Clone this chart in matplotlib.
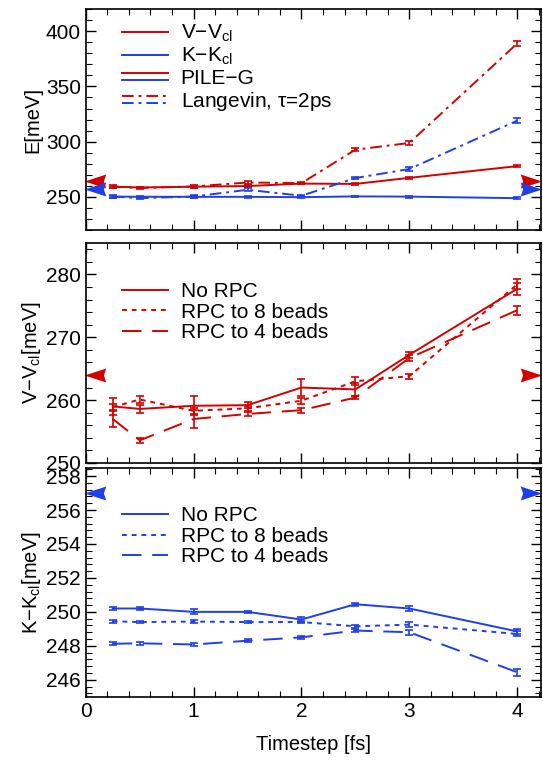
import matplotlib
matplotlib.use('Agg')
import matplotlib.pyplot as plt
from matplotlib.lines import Line2D
from matplotlib.legend_handler import HandlerBase
from matplotlib.ticker import MultipleLocator

plt.rcParams['font.family'] = ['Liberation Sans', 'DejaVu Sans']
plt.rcParams['mathtext.default'] = 'regular'

# timesteps [fs]
dt = [0.25, 0.5, 1.0, 1.5, 2.0, 2.5, 3.0, 4.0]

# top panel: total energies, PILE-G vs Langevin
pile_v = [259.2, 258.5, 259.2, 259.8, 262.0, 261.7, 267.2, 277.8]
pile_k = [250.2, 250.1, 250.0, 250.0, 249.7, 250.4, 250.2, 248.8]
lang_v = [259.4, 258.0, 259.4, 263.0, 262.4, 292.7, 298.8, 388.8]
lang_k = [250.3, 248.8, 250.3, 256.4, 251.0, 267.0, 275.2, 319.0]
pile_err = [0.8] * 8
lang_err = [1.0, 1.0, 1.0, 1.2, 1.0, 1.2, 1.5, 2.0]

# middle panel: V - V_cl
v_norpc = [259.0, 258.6, 259.1, 259.2, 262.0, 261.7, 267.2, 277.7]
v_norpc_err = [1.4, 0.6, 1.5, 0.5, 1.3, 1.0, 0.5, 1.0]
v_rpc8 = [258.9, 260.1, 258.3, 258.7, 259.9, 263.0, 263.8, 278.4]
v_rpc8_err = [0.5, 0.5, 0.5, 0.4, 0.5, 0.6, 0.4, 0.8]
v_rpc4 = [257.0, 253.6, 257.0, 257.8, 258.4, 260.4, 266.7, 274.3]
v_rpc4_err = [1.2, 0.4, 1.4, 0.3, 0.4, 0.3, 0.4, 0.7]

# bottom panel: K - K_cl
k_norpc = [250.2, 250.2, 250.0, 250.0, 249.55, 250.45, 250.2, 248.85]
k_norpc_err = [0.1, 0.08, 0.15, 0.08, 0.15, 0.1, 0.12, 0.15]
k_rpc8 = [249.45, 249.4, 249.43, 249.4, 249.4, 249.15, 249.25, 248.7]
k_rpc8_err = [0.08, 0.08, 0.08, 0.08, 0.08, 0.1, 0.15, 0.15]
k_rpc4 = [248.12, 248.15, 248.08, 248.3, 248.5, 248.9, 248.8, 246.45]
k_rpc4_err = [0.08, 0.08, 0.1, 0.08, 0.1, 0.1, 0.15, 0.2]

# reference (classical limit) values marked by arrows
v_ref = 264.0
k_ref = 257.0

red = '#d40000'
blue = '#1f3fe8'
lw = 1.4
dashdot = (0, (6, 2.5, 1.5, 2.5))
dotted = (0, (2.5, 2.5))
dashed = (0, (10, 5.5))


class StackedHandler(HandlerBase):
    def create_artists(self, legend, orig_handle, xdescent, ydescent,
                       width, height, fontsize, trans):
        arts = []
        offs = [2.6, -2.6]
        for ln, off in zip(orig_handle, offs):
            y = height / 2 - ydescent + off
            l = Line2D([-xdescent, width - xdescent], [y, y])
            l.update_from(ln)
            l.set_transform(trans)
            arts.append(l)
        return arts


fig = plt.figure(figsize=(5.43, 7.64), dpi=100)
ax1 = fig.add_axes([0.158, 0.699, 0.838, 0.289])
ax2 = fig.add_axes([0.158, 0.394, 0.838, 0.288])
ax3 = fig.add_axes([0.158, 0.088, 0.838, 0.300])

ebkw = dict(capsize=3, elinewidth=1.2, capthick=1.2)
legkw = dict(loc='upper left', frameon=False, fontsize=15, handlelength=2.2,
             labelspacing=0.08, handletextpad=0.6, borderaxespad=0)

# top panel
ax1.errorbar(dt, pile_v, yerr=pile_err, color=red, lw=lw, **ebkw)
ax1.errorbar(dt, pile_k, yerr=pile_err, color=blue, lw=lw, **ebkw)
ax1.errorbar(dt, lang_v, yerr=lang_err, color=red, lw=lw, ls=dashdot, **ebkw)
ax1.errorbar(dt, lang_k, yerr=lang_err, color=blue, lw=lw, ls=dashdot, **ebkw)

h_v = Line2D([], [], color=red, lw=lw)
h_k = Line2D([], [], color=blue, lw=lw)
h_pile = (Line2D([], [], color=red, lw=lw), Line2D([], [], color=blue, lw=lw))
h_lang = (Line2D([], [], color=red, lw=lw, ls=dashdot),
          Line2D([], [], color=blue, lw=lw, ls=dashdot))
ax1.legend([h_v, h_k, h_pile, h_lang],
           ['V\u2212V$_{cl}$', 'K\u2212K$_{cl}$', 'PILE\u2212G',
            'Langevin, $\\tau$=2ps'],
           handler_map={tuple: StackedHandler()},
           bbox_to_anchor=(0.062, 0.975), **legkw)
ax1.set_ylim(220, 420)
ax1.yaxis.set_major_locator(MultipleLocator(50))
ax1.yaxis.set_minor_locator(MultipleLocator(10))
ax1.set_ylabel('E[meV]', fontsize=14.5)

# middle panel
ax2.errorbar(dt, v_norpc, yerr=v_norpc_err, color=red, lw=lw, label='No RPC', **ebkw)
ax2.errorbar(dt, v_rpc8, yerr=v_rpc8_err, color=red, lw=lw, ls=dotted,
             label='RPC to 8 beads', **ebkw)
ax2.errorbar(dt, v_rpc4, yerr=v_rpc4_err, color=red, lw=lw, ls=dashed,
             label='RPC to 4 beads', **ebkw)
ax2.set_ylim(250, 285)
ax2.yaxis.set_major_locator(MultipleLocator(10))
ax2.yaxis.set_minor_locator(MultipleLocator(2))
ax2.set_ylabel('V\u2212V$_{cl}$[meV]', fontsize=14.5)

# bottom panel
ax3.errorbar(dt, k_norpc, yerr=k_norpc_err, color=blue, lw=lw, label='No RPC', **ebkw)
ax3.errorbar(dt, k_rpc8, yerr=k_rpc8_err, color=blue, lw=lw, ls=dotted,
             label='RPC to 8 beads', **ebkw)
ax3.errorbar(dt, k_rpc4, yerr=k_rpc4_err, color=blue, lw=lw, ls=dashed,
             label='RPC to 4 beads', **ebkw)
ax3.set_ylim(245, 258.5)
ax3.yaxis.set_major_locator(MultipleLocator(2))
ax3.yaxis.set_minor_locator(MultipleLocator(0.4))
ax3.set_ylabel('K\u2212K$_{cl}$[meV]', fontsize=14.5)
ax3.set_xlabel('Timestep [fs]', fontsize=14.5, labelpad=10)

for ax, anchor in ((ax2, (0.062, 0.86)), (ax3, (0.062, 0.868))):
    h, l = ax.get_legend_handles_labels()
    h = [hh[0] for hh in h]
    ax.legend(h, l, bbox_to_anchor=anchor, **legkw)

# arrows marking the reference values on both edges
left_head = [(-1, 0), (1, 0.65), (0.78, 0), (1, -0.65), (-1, 0)]
right_head = [(-x, y) for x, y in left_head]
marks = [(ax1, v_ref, red), (ax1, k_ref, blue), (ax2, v_ref, red), (ax3, k_ref, blue)]
for ax, val, c in marks:
    tr = ax.get_yaxis_transform()
    ax.plot([0.021], [val], marker=left_head, ms=15.5, mew=0, color=c,
            transform=tr, clip_on=False)
    ax.plot([0.979], [val], marker=right_head, ms=15.5, mew=0, color=c,
            transform=tr, clip_on=False)

for ax in (ax1, ax2, ax3):
    ax.set_xlim(0, 4.22)
    ax.xaxis.set_major_locator(MultipleLocator(1))
    ax.xaxis.set_minor_locator(MultipleLocator(0.2))
    ax.tick_params(which='both', direction='in', top=True, right=True, labelsize=15)
    ax.tick_params(which='major', length=7, width=1)
    ax.tick_params(which='minor', length=4, width=0.8)
    for s in ax.spines.values():
        s.set_linewidth(1.2)
    ax.yaxis.set_label_coords(-0.095, 0.5)

for ax in (ax1, ax2):
    ax.tick_params(labelbottom=False)

fig.savefig('out.png', dpi=100)
